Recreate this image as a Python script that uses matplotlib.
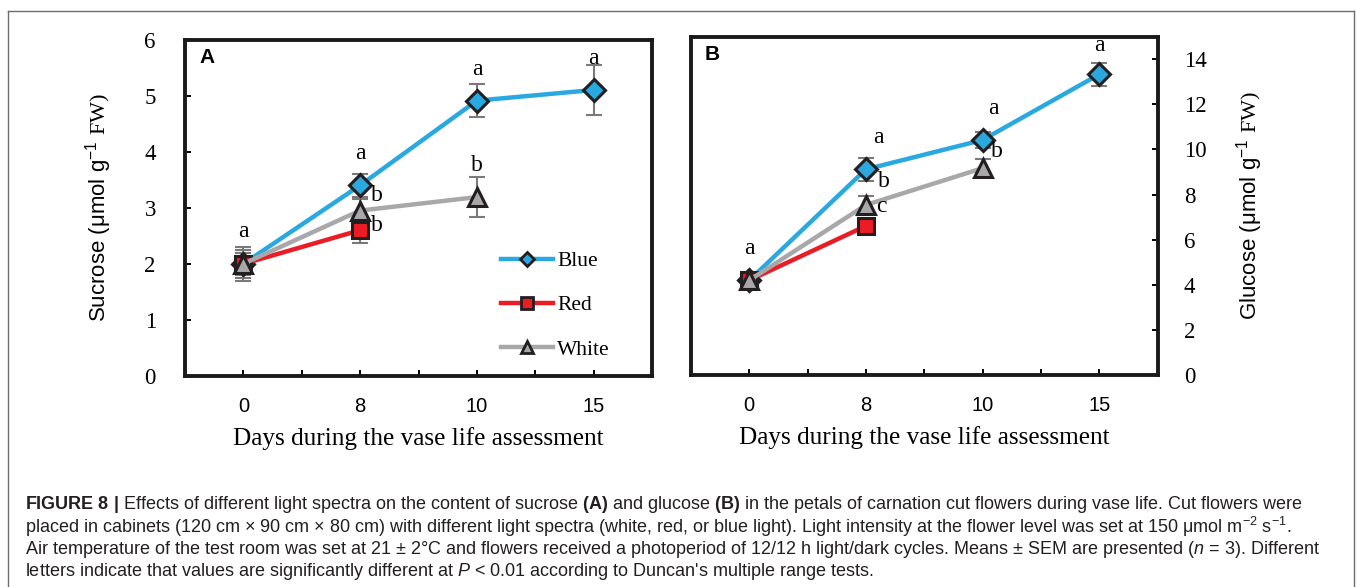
import matplotlib
matplotlib.use("Agg")
import matplotlib.pyplot as plt
from matplotlib.lines import Line2D

plt.rcParams['mathtext.fontset'] = 'custom'
plt.rcParams['mathtext.rm'] = 'Liberation Serif'
plt.rcParams['mathtext.bf'] = 'Liberation Sans:bold'
plt.rcParams['mathtext.it'] = 'Liberation Sans:italic'
plt.rcParams['mathtext.default'] = 'regular'

# ---------------- data ----------------
days = ["0", "8", "10", "15"]

suc_blue = [2.0, 3.40, 4.91, 5.10]
suc_blue_err = [0.30, 0.20, 0.30, 0.45]
suc_red = [2.0, 2.60]
suc_red_err = [0.25, 0.23]
suc_white = [2.0, 2.95, 3.19]
suc_white_err = [0.20, 0.20, 0.35]

glu_blue = [4.2, 9.12, 10.42, 13.33]
glu_blue_err = [0.20, 0.50, 0.35, 0.50]
glu_red = [4.2, 6.61]
glu_red_err = [0.15, 0.20]
glu_white = [4.2, 7.54, 9.17]
glu_white_err = [0.15, 0.40, 0.40]

# significance letters: (category index, y, letter, x offset in categories)
suc_letters = [(0, 2.57, "a", 0.0), (1, 3.97, "a", 0.0), (1, 3.21, "b", 0.14),
               (1, 2.69, "b", 0.14), (2, 5.47, "a", 0.0), (2, 3.76, "b", 0.0),
               (3, 5.66, "a", 0.0)]
glu_letters = [(0, 5.63, "a", 0.0), (1, 10.55, "a", 0.11), (1, 8.57, "b", 0.15),
               (1, 7.46, "c", 0.13), (2, 11.8, "a", 0.09), (2, 9.93, "b", 0.12),
               (3, 14.63, "a", 0.0)]

series_names = ["Blue", "Red", "White"]

BLUE = "#29A9E0"
RED = "#EC1C24"
GRAY = "#A8A8AA"
EDGE = "#231F20"
ERR = "#7A7A7A"

W, H = 1357, 587
fig = plt.figure(figsize=(W / 100, H / 100), dpi=100)

def fx(px):
    return px / W

def fy(py):
    return 1 - py / H

# outer frame
for (x0, y0, x1, y1) in [(8, 11, 1354, 11), (8, 11, 8, 590), (1354, 11, 1354, 590)]:
    fig.add_artist(Line2D([fx(x0), fx(x1)], [fy(y0), fy(y1)], color="#6d6d6d", lw=1.0))

axA = fig.add_axes([fx(185), fy(376), fx(652) - fx(185), fy(39.5) - fy(376)])
axB = fig.add_axes([fx(691), fy(375), fx(1157.5) - fx(691), fy(36.7) - fy(375)])

def draw(ax, blue, blue_e, red, red_e, white, white_e):
    xb = list(range(len(blue)))
    xr = list(range(len(red)))
    xw = list(range(len(white)))
    for xs, ys, es in [(xb, blue, blue_e), (xr, red, red_e), (xw, white, white_e)]:
        ax.errorbar(xs, ys, yerr=es, fmt="none", ecolor=ERR, elinewidth=1.5,
                    capsize=6, capthick=1.5, zorder=2)
    ax.plot(xb, blue, color=BLUE, lw=3.2, marker="D", ms=11, mfc=BLUE, mec=EDGE,
            mew=2.2, zorder=3)
    ax.plot(xr, red, color=RED, lw=3.2, marker="s", ms=11.5, mfc=RED, mec=EDGE,
            mew=2.2, zorder=4)
    ax.plot(xw, white, color=GRAY, lw=3.2, marker="^", ms=13, mfc=GRAY, mec=EDGE,
            mew=2.2, zorder=5)
    ax.set_xlim(-0.5, 3.5)
    ax.set_xticks(range(len(days)))
    ax.set_xticklabels(days, family="Liberation Sans", fontsize=14.5)
    ax.set_xticks([0.5, 1.5, 2.5], minor=True)
    ax.tick_params(axis="x", which="both", direction="in", length=4, width=1.4,
                   pad=15, top=False)
    for s in ax.spines.values():
        s.set_linewidth(2.8)
        s.set_color("#1a1a1a")
    ax.set_xlabel("Days during the vase life assessment", family="Liberation Serif",
                  fontsize=18.2, labelpad=8)

draw(axA, suc_blue, suc_blue_err, suc_red, suc_red_err, suc_white, suc_white_err)
draw(axB, glu_blue, glu_blue_err, glu_red, glu_red_err, glu_white, glu_white_err)

# Panel A y-axis
axA.set_ylim(0, 6)
axA.set_yticks(range(0, 7))
axA.tick_params(axis="y", direction="in", length=4, width=1.4, pad=21,
                labelsize=16.5, right=False)
for t in axA.get_yticklabels():
    t.set_family("Liberation Serif")
axA.set_ylabel(r"Sucrose (μmol g$^{-1}$ $\mathrm{FW)}$", family="Liberation Sans",
               fontsize=16, labelpad=22)

# Panel B y-axis on right
axB.set_ylim(0, 15)
axB.set_yticks(range(0, 15, 2))
axB.yaxis.tick_right()
axB.yaxis.set_label_position("right")
axB.tick_params(axis="y", direction="in", length=4, width=1.4, pad=19,
                labelsize=16.5, left=False, right=True)
for t in axB.get_yticklabels():
    t.set_family("Liberation Serif")
axB.set_ylabel(r"Glucose (μmol g$^{-1}$ $\mathrm{FW)}$", family="Liberation Sans",
               fontsize=16, labelpad=20)

for ax, letters in [(axA, suc_letters), (axB, glu_letters)]:
    for (i, y, s, dx) in letters:
        ax.text(i + dx, y, s, ha="center", va="center", family="Liberation Serif",
                fontsize=17, zorder=6)

axA.text(0.03, 0.975, "A", transform=axA.transAxes, ha="left", va="top",
         family="Liberation Sans", fontweight="bold", fontsize=15)
axB.text(0.03, 0.975, "B", transform=axB.transAxes, ha="left", va="top",
         family="Liberation Sans", fontweight="bold", fontsize=15)

# legend
handles = [
    Line2D([], [], color=BLUE, lw=3.2, marker="D", ms=7, mfc=BLUE, mec=EDGE, mew=2),
    Line2D([], [], color=RED, lw=3.2, marker="s", ms=8, mfc=RED, mec=EDGE, mew=2),
    Line2D([], [], color=GRAY, lw=3.2, marker="^", ms=9, mfc=GRAY, mec=EDGE, mew=2),
]
leg = axA.legend(handles, series_names, loc="upper left",
                 frameon=False, handlelength=2.4, handletextpad=0.2,
                 labelspacing=1.13, borderpad=0, borderaxespad=0,
                 prop={"family": "Liberation Serif", "size": 15.5})
leg.set_bbox_to_anchor(((501 - 185) / (652 - 185), (376 - 251) / (376 - 39.5)),
                       transform=axA.transAxes)

# caption
cap_lines = [
    r"$\mathbf{FIGURE\ 8\ |}$ Effects of different light spectra on the content of sucrose $\mathbf{(A)}$ and glucose $\mathbf{(B)}$ in the petals of carnation cut flowers during vase life. Cut flowers were",
    r"placed in cabinets (120 cm × 90 cm × 80 cm) with different light spectra (white, red, or blue light). Light intensity at the flower level was set at 150 μmol m$^{-2}$ s$^{-1}$.",
    r"Air temperature of the test room was set at 21 ± 2°C and flowers received a photoperiod of 12/12 h light/dark cycles. Means ± SEM are presented ($\mathit{n}$ = 3). Different",
    r"letters indicate that values are significantly different at $\mathit{P}$ < 0.01 according to Duncan's multiple range tests.",
]
cap_y = [501.5, 524, 546.5, 568.5]
texts = []
for s, y in zip(cap_lines, cap_y):
    t = fig.text(fx(25), fy(y), s, ha="left", va="center_baseline",
                 family="Liberation Sans", fontsize=11, color="#231F20")
    texts.append(t)
fig.canvas.draw()
r = fig.canvas.get_renderer()
wpx = texts[0].get_window_extent(r).width
fs = 11 * (1300 - 25) / wpx
for t in texts:
    t.set_fontsize(fs)

fig.savefig("out.png", dpi=100)
